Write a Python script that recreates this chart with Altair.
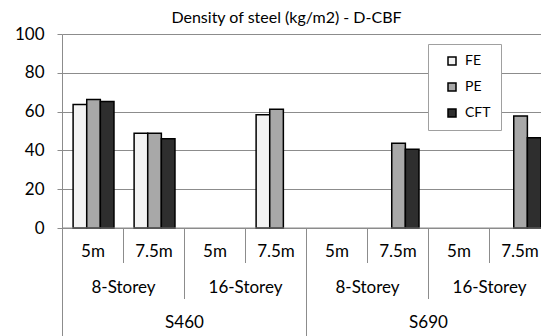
import altair as alt
import pandas as pd

grades = ["S460", "S690"]
storeys = ["8-Storey", "16-Storey"]
spans = ["5m", "7.5m"]
series = ["FE", "PE", "CFT"]
fe = [63.6, 48.8, None, 58.4, None, None, None, None]
pe = [66.2, 48.8, None, 61.2, None, 43.7, None, 57.7]
cft = [65.2, 46.0, None, None, None, 40.6, None, 46.5]
colors = ["#f3f3f3", "#a8a8a8", "#2e2e2e"]
y_ticks = [0, 20, 40, 60, 80, 100]

cats = []
span_labels = []
for g in grades:
    for s in storeys:
        for sp in spans:
            cats.append(f"{g}|{s}|{sp}")
            span_labels.append(sp)

rows = []
for i, c in enumerate(cats):
    for name, vals in zip(series, [fe, pe, cft]):
        if vals[i] is not None:
            rows.append({"cat": c, "series": name, "value": vals[i]})
bars_df = pd.DataFrame(rows)

W = 479
H = 194
FONT = "Lato"
GRID = "#8c8c8c"

bars = alt.Chart(bars_df).mark_bar(stroke="black", strokeWidth=1.5).encode(
    x=alt.X("cat:N", sort=cats, axis=None,
            scale=alt.Scale(domain=cats, paddingInner=0.33, paddingOuter=0.091, align=1)),
    xOffset=alt.XOffset("series:N", sort=series,
                        scale=alt.Scale(domain=series, paddingInner=0, paddingOuter=0)),
    y=alt.Y("value:Q", scale=alt.Scale(domain=[0, 100]),
            axis=alt.Axis(values=y_ticks, title=None, grid=True, gridColor=GRID,
                          domainColor=GRID, tickColor=GRID, tickSize=5, labelPadding=13,
                          labelFontSize=17, labelFont=FONT, labelColor="black")),
    fill=alt.Fill("series:N", sort=series, scale=alt.Scale(domain=series, range=colors),
                  legend=alt.Legend(title=None, orient="none", legendX=366, legendY=10,
                                    direction="vertical", symbolType="square", symbolSize=64,
                                    symbolStrokeColor="black", symbolStrokeWidth=1.5,
                                    labelFontSize=14, labelFont=FONT, labelColor="black",
                                    rowPadding=12, padding=10, symbolOffset=7, labelOffset=6,
                                    strokeColor="#a0a0a0", fillColor="white")),
)

lab_scale = alt.Scale(domain=[0, 8], range=[0.5, 488.5])


def text_layer(df, yv):
    return alt.Chart(df).mark_text(font=FONT, fontSize=17, color="black", baseline="middle").encode(
        x=alt.X("pos:Q", scale=lab_scale, axis=None), y=alt.value(yv), text="text:N")


def rule_layer(positions, y2):
    df = pd.DataFrame({"pos": positions})
    return alt.Chart(df).mark_rule(color=GRID, strokeWidth=1).encode(
        x=alt.X("pos:Q", scale=lab_scale, axis=None), y=alt.value(H), y2=alt.value(y2))


lab1 = pd.DataFrame({"pos": [i + 0.5 for i in range(8)], "text": span_labels})
lab2 = pd.DataFrame({"pos": [2 * i + 1 for i in range(4)], "text": storeys * 2})
lab3 = pd.DataFrame({"pos": [4 * i + 2 for i in range(2)], "text": grades})

baseline = alt.Chart(pd.DataFrame({"pos": [0]})).mark_rule(color=GRID, strokeWidth=1).encode(
    x=alt.value(0), x2=alt.value(W), y=alt.value(H))

chart = alt.layer(
    bars,
    baseline,
    rule_layer([1, 3, 5, 7], 229),
    rule_layer([2, 6], 265),
    rule_layer([0, 4], 302),
    text_layer(lab1, 218),
    text_layer(lab2, 254),
    text_layer(lab3, 289),
).resolve_scale(x="independent").properties(
    width=W, height=H,
    title=alt.TitleParams("Density of steel (kg/m2) - D-CBF", fontSize=16, font=FONT,
                          fontWeight="normal", anchor="middle", dx=-15, offset=-1, color="black"),
    autosize=alt.AutoSizeParams(type="none"),
    padding={"left": 54, "top": 26, "right": 0, "bottom": 108},
).configure_view(stroke=None)

chart.save("out.html", embed_options={"renderer": "svg", "actions": False})
